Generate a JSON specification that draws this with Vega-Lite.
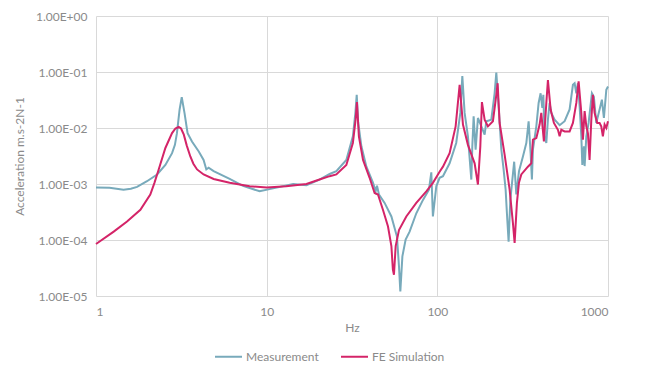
{
  "$schema": "https://vega.github.io/schema/vega-lite/v6.json",
  "width": 512,
  "height": 280,
  "autosize": {"type": "none"},
  "padding": {"left": 96, "top": 16, "right": 37, "bottom": 83},
  "background": "#ffffff",
  "datasets": {
    "meas": [
      [1.0, 8.7e-4], [1.2, 8.6e-4], [1.45, 7.9e-4], [1.6, 8.2e-4], [1.74, 8.9e-4], [1.99, 1.12e-3], [2.28, 1.48e-3], [2.55, 2.19e-3], [2.79, 3.55e-3], [2.9, 5.0e-3], [2.98, 8.1e-3], [3.09, 2.14e-2], [3.18, 3.55e-2], [3.30, 1.86e-2], [3.44, 8.1e-3], [3.65, 5.75e-3], [4.0, 3.8e-3], [4.27, 2.69e-3], [4.43, 1.82e-3], [4.57, 1.95e-3], [4.89, 1.70e-3],
      [6.07, 1.23e-3], [7.26, 9.3e-4], [9.1, 7.4e-4], [10.4, 8.1e-4], [14.3, 1.0e-3], [17.1, 9.5e-4], [20.4, 1.2e-3], [23.4, 1.51e-3],
      [25.6, 1.70e-3], [29.3, 2.69e-3], [32.0, 7.1e-3], [33.1, 1.86e-2], [33.7, 3.9e-2], [34.4, 1.23e-2], [35.9, 4.7e-3], [38.4, 2.04e-3], [42.0, 1.05e-3], [43.5, 7.4e-4], [44.3, 9.3e-4], [45.5, 6.5e-4], [49.1, 4.6e-4], [53.8, 2.63e-4], [58.0, 1.15e-4], [59.6, 3.4e-5], [60.7, 1.2e-5], [62.4, 5.1e-5], [65.2, 1.02e-4], [68.8, 1.41e-4], [75.3, 3.0e-4], [82.4, 5.2e-4], [89.3, 7.9e-4], [92.2, 1.62e-3], [94.2, 2.63e-4], [98.6, 9.1e-4], [103.1, 1.29e-3],
      [107.9, 1.38e-3], [118, 2.34e-3], [129, 5.4e-3], [136.4, 1.86e-2], [140.1, 8.5e-2], [144.5, 1.86e-2], [151.1, 7.1e-3], [158.2, 1.2e-3], [160.3, 4.7e-3], [163.2, 1.62e-2], [167.6, 4.1e-3], [172.9, 1.51e-2], [181.1, 1.07e-2], [189.3, 7.6e-3], [193.7, 1.32e-2], [207.1, 1.41e-2], [216.6, 4.17e-2], [221.6, 9.8e-2], [228.6, 2.45e-2], [237.2, 4.1e-3], [244.5, 1.82e-3], [251.3, 7.9e-4], [255.7, 3.0e-4], [261.6, 9.3e-5], [267.7, 5.2e-4], [282, 2.5e-3], [290.2, 6.5e-4], [301, 1.7e-3],
      [317.4, 3.1e-3], [332.2, 5.4e-3], [342.7, 1.32e-2], [352.1, 3.55e-3], [358.2, 1.2e-3], [363.2, 4.1e-3], [380.2, 1.07e-2], [392.2, 2.8e-2], [402.9, 4.17e-2], [412.3, 2.29e-2], [417.9, 3.9e-2], [425.3, 7.1e-3], [435.1, 5.4e-3], [444.6, 1.41e-2], [454.9, 2.8e-2], [465.5, 1.86e-2], [486.6, 1.41e-2], [520.7, 1.12e-2], [557, 1.32e-2], [595.7, 2.14e-2], [623, 5.9e-2], [637.5, 6.3e-2], [652.3, 4.17e-2], [666.4, 6.3e-2], [681.8, 2.45e-2], [697.7, 7.1e-3], [707.2, 2.19e-3], [722.8, 4.7e-3], [729.5, 2.09e-3], [746.5, 7.1e-3], [769.7, 1.23e-2], [805, 4.17e-2], [826.6, 3.6e-2], [853.6, 1.23e-2], [892.6, 2.14e-2], [920.9, 3.2e-2], [946.1, 1.51e-2], [977.5, 4.8e-2], [1000, 5.5e-2]
    ],
    "fe": [
      [1.0, 8.5e-5], [1.27, 1.41e-4], [1.52, 2.14e-4], [1.82, 3.47e-4], [2.08, 6.5e-4], [2.2, 1.05e-3], [2.33, 1.82e-3], [2.55, 4.4e-3], [2.79, 8.1e-3], [2.92, 9.8e-3], [3.05, 1.05e-2], [3.15, 9.8e-3], [3.27, 7.6e-3], [3.4, 4.9e-3], [3.57, 3.1e-3], [3.72, 2.3e-3], [3.91, 1.82e-3], [4.27, 1.48e-3], [4.89, 1.23e-3], [6.07, 1.05e-3], [7.95, 9.1e-4], [10, 8.7e-4], [13.0, 9.1e-4], [17.1, 1.0e-3], [20.4, 1.2e-3], [23.4, 1.38e-3], [25.6, 1.48e-3], [29.3, 2.19e-3], [32.0, 5.4e-3], [33.2, 1.41e-2], [33.8, 2.9e-2], [34.7, 7.1e-3], [36.7, 2.69e-3], [40.1, 1.29e-3], [42.9, 6.9e-4], [44.9, 6.5e-4], [48.0, 3.47e-4], [51.4, 1.74e-4], [53.8, 7.8e-5], [54.9, 2.95e-5], [55.7, 2.4e-5], [57.0, 7.8e-5], [59.6, 1.51e-4], [65.8, 2.63e-4], [75.3, 4.6e-4], [86.2, 7.4e-4], [94.2, 1.05e-3], [103.1, 1.66e-3], [107.9, 2.04e-3], [118, 3.55e-3], [128, 1.07e-2], [135.1, 5.9e-2], [141.3, 1.15e-2], [151.1, 5.0e-3], [165.4, 2.34e-3], [172.9, 9.8e-4], [178.6, 4.7e-3], [182.5, 2.9e-2], [189.3, 1.41e-2], [197.9, 1.07e-2], [211.7, 1.32e-2], [221.6, 3.9e-2], [225.6, 6.3e-2], [231.7, 1.23e-2], [248, 3.3e-3], [265.2, 7.9e-4], [277.3, 2.0e-4], [283.7, 8.9e-5], [292.6, 4.6e-4], [300.7, 1.05e-3], [310.5, 1.48e-3], [339.4, 2.04e-3], [355.4, 2.34e-3], [363.2, 6.2e-3], [380.2, 6.6e-3], [397.4, 1.15e-2], [406.6, 1.86e-2], [421.1, 5.75e-3], [435.1, 2.8e-2], [444.6, 7.2e-2], [461.2, 2.14e-2], [482, 1.23e-2], [508.8, 9.3e-3], [520.7, 7.1e-3], [532.6, 9.3e-3], [557, 8.7e-3], [595.7, 8.7e-3], [623, 1.23e-2], [652.3, 2.8e-2], [672.7, 6.8e-2], [697.7, 1.86e-2], [712.8, 6.2e-3], [729.5, 2.0e-2], [746.5, 1.07e-2], [762.6, 8.1e-3], [780, 2.69e-3], [798.4, 1.41e-2], [815.6, 3.9e-2], [834.6, 1.86e-2], [865, 1.23e-2], [892.6, 1.23e-2], [913.1, 1.07e-2], [933.3, 7.1e-3], [955, 1.15e-2], [977.5, 1.0e-2], [1000, 1.32e-2]
    ]
  },
  "layer": [
    {
      "data": {"name": "meas"},
      "transform": [
        {"calculate": "datum[0]", "as": "Hz"},
        {"calculate": "datum[1]", "as": "acc"},
        {"calculate": "'Measurement'", "as": "series"}
      ],
      "mark": {"type": "line", "strokeWidth": 2, "interpolate": "linear"},
      "encoding": {
        "x": {"field": "Hz", "type": "quantitative"},
        "y": {"field": "acc", "type": "quantitative"},
        "color": {"field": "series", "type": "nominal"}
      }
    },
    {
      "data": {"name": "fe"},
      "transform": [
        {"calculate": "datum[0]", "as": "Hz"},
        {"calculate": "datum[1]", "as": "acc"},
        {"calculate": "'FE Simulation'", "as": "series"}
      ],
      "mark": {"type": "line", "strokeWidth": 2, "interpolate": "linear"},
      "encoding": {
        "x": {"field": "Hz", "type": "quantitative"},
        "y": {"field": "acc", "type": "quantitative"},
        "color": {"field": "series", "type": "nominal"}
      }
    }
  ],
  "resolve": {"scale": {"x": "shared", "y": "shared", "color": "shared"}},
  "encoding": {
    "x": {
      "field": "Hz", "type": "quantitative",
      "scale": {"type": "log", "domain": [1, 1000], "nice": false},
      "axis": {"title": "Hz", "values": [1, 10, 100, 1000], "format": "d", "grid": true, "ticks": false, "domain": false, "labelPadding": 10, "titlePadding": 5}
    },
    "y": {
      "field": "acc", "type": "quantitative",
      "scale": {"type": "log", "domain": [0.00001, 1], "nice": false},
      "axis": {
        "title": "Acceleration m.s-2N-1",
        "values": [0.00001, 0.0001, 0.001, 0.01, 0.1, 1],
        "labelExpr": "'1.00E' + (datum.value >= 0.99 ? '+00' : '-0' + round(-log(datum.value)/LN10))",
        "grid": true, "ticks": false, "domain": false, "labelPadding": 9, "titlePadding": 9
      }
    },
    "color": {
      "field": "series", "type": "nominal",
      "scale": {"domain": ["Measurement", "FE Simulation"], "range": ["#78aabb", "#d42468"]},
      "legend": {
        "title": null, "orient": "none", "direction": "horizontal",
        "legendX": 118, "legendY": 326,
        "symbolType": "stroke", "symbolSize": 729, "symbolStrokeWidth": 2,
        "columnPadding": 18, "labelOffset": 3
      }
    }
  },
  "config": {
    "font": "Lato",
    "view": {"stroke": null},
    "axis": {
      "gridColor": "#d9d9d9", "gridWidth": 1, "gridOpacity": 1,
      "labelColor": "#8a8a8a", "titleColor": "#8a8a8a",
      "labelFontSize": 12, "titleFontSize": 12, "titleFontWeight": "normal", "labelFont": "Lato", "titleFont": "Lato"
    },
    "legend": {"labelColor": "#8a8a8a", "labelFontSize": 12, "labelFont": "Lato"}
  }
}
